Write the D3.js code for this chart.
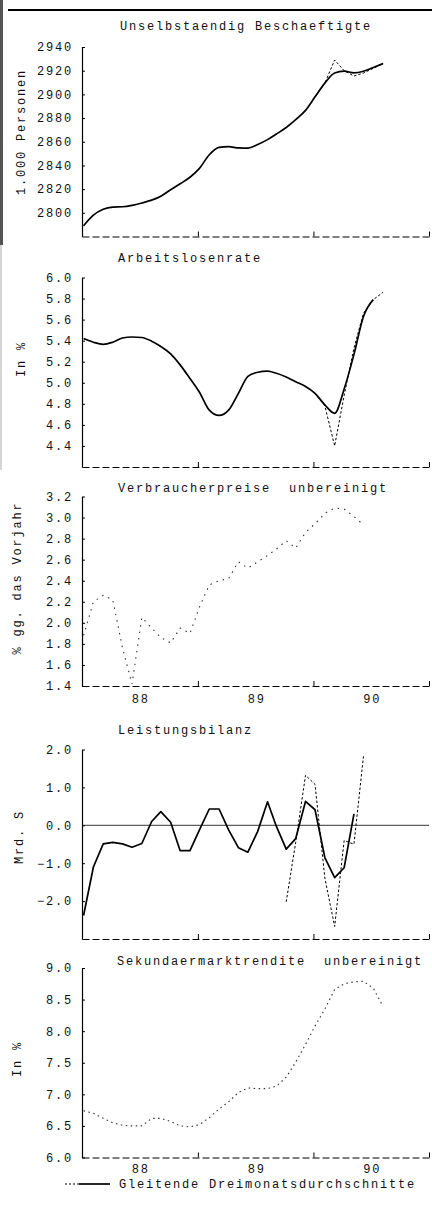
<!DOCTYPE html>
<html>
<head>
<meta charset="utf-8">
<script src="https://cdn.jsdelivr.net/npm/d3@7"></script>
<style>
body { margin: 0; background: #fff; }
svg { display: block; }
text { font-family: "Liberation Mono", "DejaVu Sans Mono", monospace; font-size: 12px; letter-spacing: 1.8px; fill: #111; white-space: pre; }
</style>
</head>
<body>
<div id="chart"></div>
<script>
// monthly values, index 0 = Jul 1987
// Unselbstaendig Beschaeftigte (1.000 Personen)
const beschAvg = [2789, 2798, 2803, 2804.8, 2805.1, 2806.3, 2808.3, 2810.7, 2814, 2819.5, 2824.5, 2830,
	2837.5, 2849, 2855.2, 2855.8, 2854.8, 2854.6, 2857.7, 2861.8, 2866.5, 2872, 2878.6, 2886.5,
	2897.9, 2909.5, 2918, 2919.6, 2918.2, 2919.5, 2922.7, 2926];
const beschRawStart = 24;
const beschRaw = [2897.9, 2909.5, 2929, 2920, 2915.5, 2918, 2922, 2926];

// Arbeitslosenrate (in %)
const alqAvg = [5.42, 5.385, 5.365, 5.385, 5.425, 5.435, 5.43, 5.395, 5.345, 5.275, 5.17, 5.04,
	4.91, 4.74, 4.69, 4.74, 4.90, 5.06, 5.10, 5.11, 5.09, 5.055, 5.01, 4.965,
	4.90, 4.79, 4.71, 4.94, 5.27, 5.63, 5.79];
const alqRawStart = 24;
const alqRaw = [4.90, 4.78, 4.40, 4.88, 5.33, 5.66, 5.79, 5.86];

// Verbraucherpreise unbereinigt (% gg. das Vorjahr)
const vpiRaw = [1.88, 2.20, 2.26, 2.22, 1.76, 1.42, 2.05, 1.95, 1.86, 1.81, 1.95, 1.90,
	2.15, 2.36, 2.40, 2.42, 2.58, 2.52, 2.58, 2.64, 2.70, 2.78, 2.71, 2.86,
	2.94, 3.04, 3.09, 3.08, 3.01, 2.93];

// Leistungsbilanz (Mrd. S)
const lbAvg = [-2.38, -1.10, -0.49, -0.45, -0.49, -0.58, -0.48, 0.10, 0.36, 0.08, -0.67, -0.67,
	-0.12, 0.43, 0.43, -0.12, -0.59, -0.71, -0.16, 0.62, -0.03, -0.63, -0.35, 0.63,
	0.41, -0.85, -1.38, -1.12, 0.30];
const lbRawStart = 21;
const lbRaw = [-2.02, -0.45, 1.32, 1.08, -1.39, -2.67, -0.40, -0.50, 1.82];

// Sekundaermarktrendite unbereinigt (in %)
const renditeRaw = [6.74, 6.70, 6.62, 6.55, 6.51, 6.50, 6.50, 6.62, 6.62, 6.57, 6.50, 6.485,
	6.52, 6.63, 6.77, 6.88, 7.03, 7.10, 7.09, 7.09, 7.13, 7.27, 7.51, 7.79,
	8.08, 8.35, 8.66, 8.75, 8.78, 8.79, 8.68, 8.39];

// tick values
const ticksBesch = [2800, 2820, 2840, 2860, 2880, 2900, 2920, 2940];
const ticksAlq = [4.4, 4.6, 4.8, 5.0, 5.2, 5.4, 5.6, 5.8, 6.0];
const ticksVpi = [1.4, 1.6, 1.8, 2.0, 2.2, 2.4, 2.6, 2.8, 3.0, 3.2];
const ticksLb = [-2, -1, 0, 1, 2];
const ticksRendite = [6.0, 6.5, 7.0, 7.5, 8.0, 8.5, 9.0];
const yearLabels = ['88', '89', '90'];

const width = 432, height = 1207;
const plotLeft = 82, plotRight = 429, plotH = 189.5;

let svg = d3.select('#chart')
	.append('svg')
	.attr('width', width)
	.attr('height', height)
	.style('background', 'white');

// scan frame: top rule and left edge
svg.append('line')
	.attr('x1', 8).attr('x2', width)
	.attr('y1', 10).attr('y2', 10)
	.attr('stroke', 'black')
	.attr('stroke-width', 2);
svg.append('rect')
	.attr('x', 0).attr('y', 0)
	.attr('width', 3).attr('height', 245)
	.attr('fill', '#555');
svg.append('line')
	.attr('x1', 1).attr('x2', 1)
	.attr('y1', 245).attr('y2', 470)
	.attr('stroke', '#aaa');

// time scale, Jul 87 .. Jul 90
let x = d3.scaleTime()
	.domain([new Date(1987, 6, 1), new Date(1990, 6, 1)])
	.range([plotLeft, plotRight]);

const firstMonth = new Date(1987, 6, 6);
function monthDate(i) { return d3.timeMonth.offset(firstMonth, i); }

const julyTicks = [new Date(1988, 6, 1), new Date(1989, 6, 1), new Date(1990, 6, 1)];
const janTicks = yearLabels.map(function (d) { return new Date(1900 + +d, 0, 1); });

let fmt0 = d3.format('d');
let fmt1 = d3.format('.1f');

let panels = [
	{ title: 'Unselbstaendig Beschaeftigte', titleX: 120, titleY: 30, ylabel: '1.000 Personen', labelX: 25, labelY: 132,
		top: 47, domain: [2780, 2940], ticks: ticksBesch, fmt: fmt0,
		avg: beschAvg, raw: beschRaw, rawStart: beschRawStart, smooth: true },
	{ title: 'Arbeitslosenrate', titleX: 118, titleY: 262, ylabel: 'In %', labelX: 25, labelY: 359,
		top: 277.5, domain: [4.2, 6.0], ticks: ticksAlq, fmt: fmt1,
		avg: alqAvg, raw: alqRaw, rawStart: alqRawStart, smooth: true },
	{ title: 'Verbraucherpreise  unbereinigt', titleX: 118, titleY: 492, ylabel: '% gg. das Vorjahr', labelX: 21, labelY: 578,
		top: 496.5, domain: [1.4, 3.2], ticks: ticksVpi, fmt: fmt1,
		raw: vpiRaw, rawStart: 0, sparse: '1.5,5', years: 8 },
	{ title: 'Leistungsbilanz', titleX: 118, titleY: 734, ylabel: 'Mrd. S', labelX: 23, labelY: 837,
		top: 749.5, domain: [-3, 2], ticks: ticksLb, fmt: fmt1,
		avg: lbAvg, raw: lbRaw, rawStart: lbRawStart, zero: true },
	{ title: 'Sekundaermarktrendite  unbereinigt', titleX: 117, titleY: 965, ylabel: 'In %', labelX: 21, labelY: 1059,
		top: 968, domain: [6.0, 9.0], ticks: ticksRendite, fmt: fmt1,
		raw: renditeRaw, rawStart: 0, sparse: '1.5,3.5', years: 7 }
];

function drawPanel(p) {
	let bottom = p.top + plotH;
	let y = d3.scaleLinear().domain(p.domain).range([bottom, p.top]);
	let g = svg.append('g');

	// title
	g.append('text')
		.attr('x', p.titleX)
		.attr('y', p.titleY)
		.text(p.title);

	// rotated unit label
	g.append('text')
		.attr('transform', 'translate(' + p.labelX + ',' + p.labelY + ') rotate(-90)')
		.attr('text-anchor', 'middle')
		.text(p.ylabel);

	// y axis, small ticks pointing inwards
	g.append('g')
		.attr('transform', 'translate(' + plotLeft + ',0)')
		.call(d3.axisLeft(y).tickValues(p.ticks).tickSizeInner(-3).tickSizeOuter(0).tickPadding(9).tickFormat(p.fmt))
		.call(function (a) { a.select('.domain').attr('stroke-width', 1.2); });

	// dashed x axis with half-year ticks
	g.append('g')
		.attr('transform', 'translate(0,' + bottom + ')')
		.call(d3.axisBottom(x).tickValues(julyTicks).tickSizeInner(-5).tickSizeOuter(0).tickFormat(''))
		.call(function (a) { a.select('.domain').attr('stroke-dasharray', '7,3'); });

	if (p.years) {
		g.append('g')
			.attr('transform', 'translate(0,' + bottom + ')')
			.call(d3.axisBottom(x).tickValues(janTicks).tickSize(0).tickPadding(p.years).tickFormat(d3.timeFormat('%y')))
			.call(function (a) { a.select('.domain').remove(); });
	}

	if (p.zero) {
		g.append('line')
			.attr('x1', plotLeft).attr('x2', plotRight)
			.attr('y1', y(0)).attr('y2', y(0))
			.attr('stroke', 'black')
			.attr('stroke-width', 0.8);
	}

	// monthly values, dotted
	let rawLine = d3.line()
		.x(function (d, i) { return x(monthDate(p.rawStart + i)); })
		.y(function (d) { return y(d); });
	g.append('path')
		.datum(p.raw)
		.attr('d', rawLine)
		.attr('fill', 'none')
		.attr('stroke', p.sparse ? '#333' : 'black')
		.attr('stroke-width', p.sparse ? 1.1 : 1)
		.attr('stroke-dasharray', p.sparse ? p.sparse : '2.5,2');

	// gleitende Dreimonatsdurchschnitte, solid
	if (p.avg) {
		let avgLine = d3.line()
			.x(function (d, i) { return x(monthDate(i)); })
			.y(function (d) { return y(d); })
			.curve(p.smooth ? d3.curveMonotoneX : d3.curveLinear);
		g.append('path')
			.datum(p.avg)
			.attr('d', avgLine)
			.attr('fill', 'none')
			.attr('stroke', 'black')
			.attr('stroke-width', 1.7)
			.attr('stroke-linejoin', 'round');
	}
}

panels.forEach(drawPanel);

// legend
let legend = svg.append('g');
legend.append('line')
	.attr('x1', 65).attr('x2', 79)
	.attr('y1', 1184).attr('y2', 1184)
	.attr('stroke', 'black')
	.attr('stroke-dasharray', '2,2');
legend.append('line')
	.attr('x1', 79).attr('x2', 110)
	.attr('y1', 1184).attr('y2', 1184)
	.attr('stroke', 'black')
	.attr('stroke-width', 1.7);
legend.append('text')
	.attr('x', 119)
	.attr('y', 1188)
	.text('Gleitende Dreimonatsdurchschnitte');
</script>
</body>
</html>
